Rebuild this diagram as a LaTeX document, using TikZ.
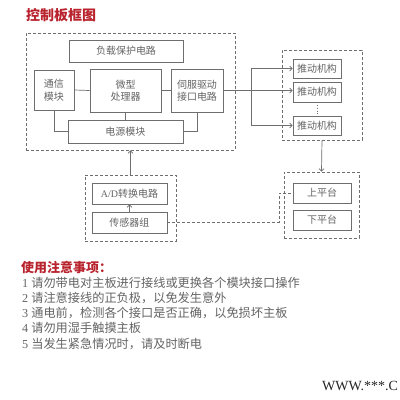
\documentclass[tikz,border=0pt]{standalone}
\usepackage{fontspec}
\setmainfont{Liberation Serif}
\newfontfamily\cjk{Noto Sans CJK SC}
\usetikzlibrary{arrows.meta}
\definecolor{ln}{RGB}{110,110,110}
\definecolor{tx}{RGB}{100,100,100}
\definecolor{rd}{RGB}{185,35,45}
\begin{document}
\begin{tikzpicture}[x=1pt,y=-1pt,
  box/.style={draw=ln, line width=0.8pt, fill=white, inner sep=0pt, font=\cjk\fontsize{10}{12.5}\selectfont, text=tx, align=center},
  grp/.style={draw=ln, line width=0.7pt, dash pattern=on 3pt off 2pt, inner sep=0pt},
  wire/.style={draw=ln, line width=0.7pt},
  arr/.style={wire, -{Straight Barb[length=2.5pt,width=5pt]}},
  note/.style={anchor=west, inner sep=0pt, text=tx, font=\fontsize{12.2}{14}\selectfont}]
\useasboundingbox (0,0) rectangle (400,400);
\fill[white] (0,0) rectangle (400,400);
% title
\node[anchor=west, inner sep=0pt, text=rd, font=\cjk\bfseries\fontsize{14}{16}\selectfont] (title) at (26,15) {控制板框图};
% groups
\node[grp, minimum width=209pt, minimum height=117pt] (g1) at (130.5,91.5) {};
\node[grp, minimum width=80pt, minimum height=90pt] (g2) at (322,95) {};
\node[grp, minimum width=75pt, minimum height=66pt] (g3) at (321.5,205) {};
\node[grp, minimum width=91pt, minimum height=66pt] (g4) at (130.5,208) {};
% main board
\node[box, minimum width=114pt, minimum height=22pt] (fz) at (126,51) {负载保护电路};
\node[box, minimum width=40pt, minimum height=40pt] (txm) at (54,90) {通信\\模块};
\node[box, minimum width=71pt, minimum height=43pt] (cpu) at (125.5,90.5) {微型\\处理器};
\node[box, minimum width=52pt, minimum height=43pt] (sf) at (197,90.5) {伺服驱动\\接口电路};
\node[box, minimum width=115pt, minimum height=23pt] (dy) at (125.5,131.5) {电源模块};
\draw[wire] (txm.east) -- (cpu.west);
\draw[wire] (cpu.east) -- (sf.west);
\draw[wire] (cpu.south) -- (dy.north);
\draw[wire] (txm.south) |- (dy.west);
\draw[wire] (sf.south) |- (dy.east);
% actuators
\node[box, minimum width=48pt, minimum height=19pt] (td1) at (317,68.5) {推动机构};
\node[box, minimum width=48pt, minimum height=20pt] (td2) at (317,92) {推动机构};
\node[box, minimum width=48pt, minimum height=19pt] (td3) at (317,125.5) {推动机构};
\coordinate (br1) at (251,68.5);
\coordinate (br3) at (251,125.5);
\draw[arr] (sf.east) -- (sf.east -| td2.west);
\draw[wire] (br1) -- (br3);
\draw[arr] (br1) -- (td1.west);
\draw[arr] (br3) -- (td3.west);
\draw[wire, dotted] (td2.south) -- (td3.north);
\draw[arr] (g2.south) -- (g3.north);
% platforms
\node[box, minimum width=58pt, minimum height=20pt] (sp) at (322,193) {上平台};
\node[box, minimum width=58pt, minimum height=20pt] (xp) at (322,220) {下平台};
% sensors
\node[box, minimum width=75pt, minimum height=21pt] (ad) at (129.5,193.5) {{\rmfamily A/D}转换电路};
\node[box, minimum width=75pt, minimum height=21pt] (cg) at (129.5,222.5) {传感器组};
\draw[arr] (cg.north) -- (ad.south);
\draw[arr] (g4.north) -- (g1.south);
\coordinate (k1) at (279,222.5);
\coordinate (k2) at (279,193);
\draw[wire, dash pattern=on 3pt off 2pt] (cg.east) -- (k1) -- (k2) -- (sp.west);
% notes
\node[anchor=west, inner sep=0pt, text=rd, font=\cjk\bfseries\fontsize{13}{15}\selectfont] (nt) at (21,268) {使用注意事项：};
\node[note] (n1) at (22,283) {1 {\cjk 请勿带电对主板进行接线或更换各个模块接口操作}};
\node[note] (n2) at (22,298) {2 {\cjk 请注意接线的正负极，以免发生意外}};
\node[note] (n3) at (22,313) {3 {\cjk 通电前，检测各个接口是否正确，以免损坏主板}};
\node[note] (n4) at (22,328) {4 {\cjk 请勿用湿手触摸主板}};
\node[note] (n5) at (22,344) {5 {\cjk 当发生紧急情况时，请及时断电}};
\node[anchor=west, inner sep=0pt, text=black!85, font=\fontsize{14}{16}\selectfont] (www) at (322,386) {WWW.***.C};
\end{tikzpicture}
\end{document}
